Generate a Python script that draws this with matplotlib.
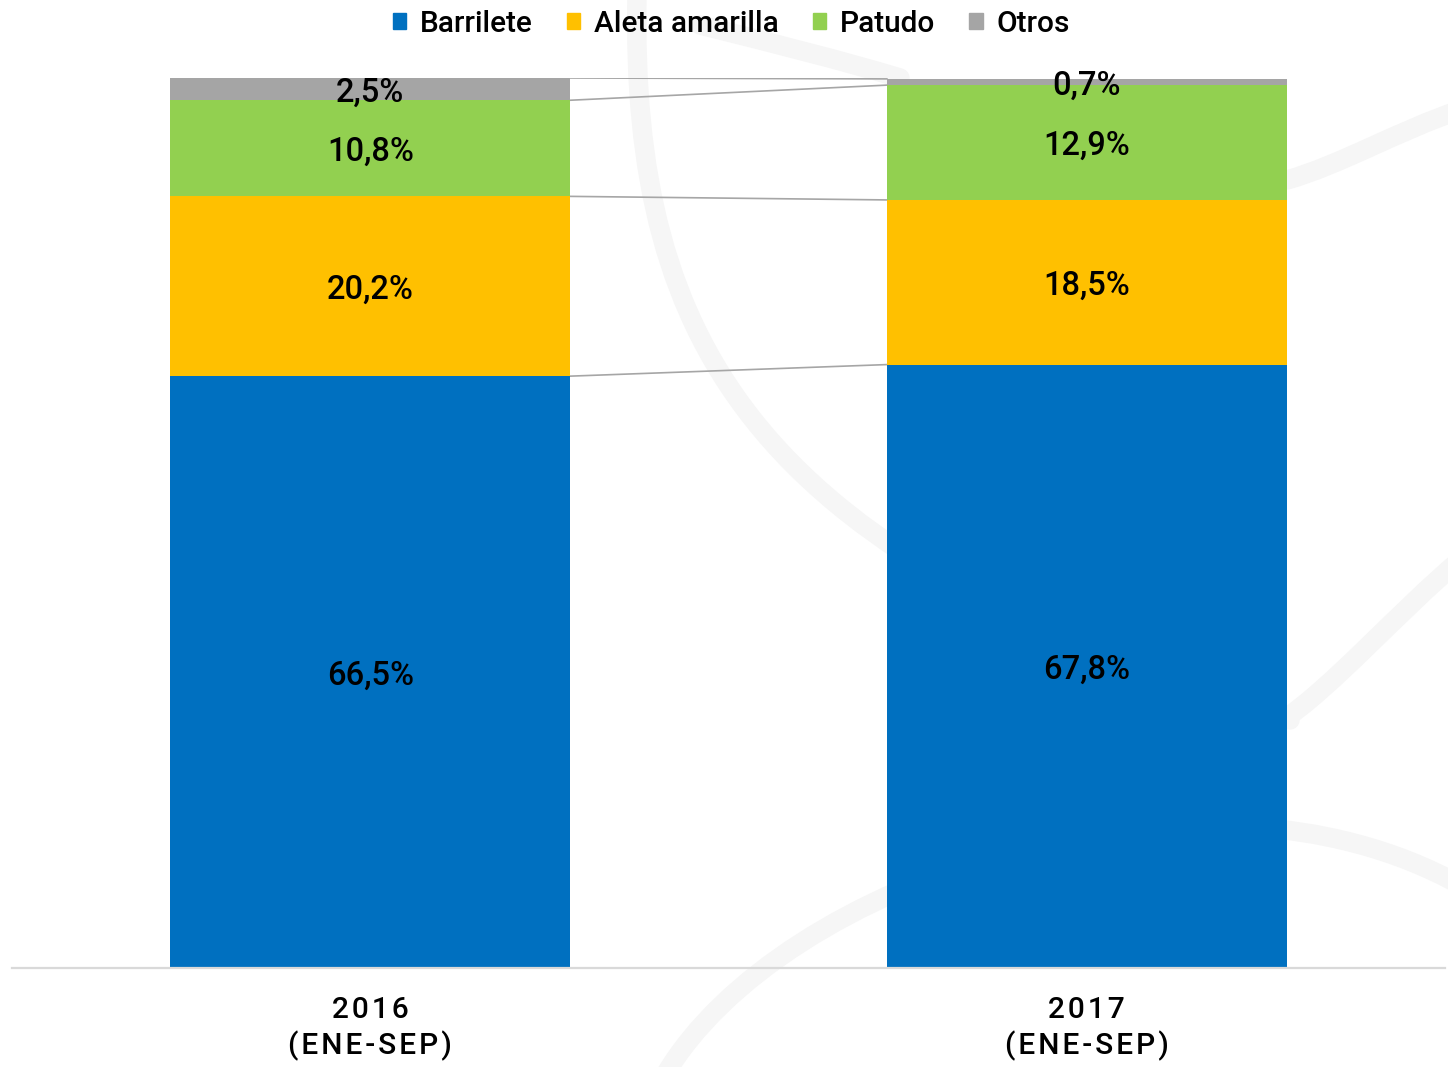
import numpy as np
import matplotlib
matplotlib.use("Agg")
import matplotlib.pyplot as plt
from matplotlib.path import Path
from matplotlib.patches import PathPatch, Patch

plt.rcParams['font.family'] = ['Roboto', 'DejaVu Sans']

# data
years = ['2016', '2017']
period = '(ENE-SEP)'
series_names = ['Barrilete', 'Aleta amarilla', 'Patudo', 'Otros']
barrilete = [66.5, 67.8]
aleta = [20.2, 18.5]
patudo = [10.8, 12.9]
otros = [2.5, 0.7]
colors = ['#0070C0', '#FFC000', '#92D050', '#A5A5A5']

fig = plt.figure(figsize=(14.48, 10.67), dpi=100)

# faint watermark strokes in the background (pixel coords)
bg = fig.add_axes([0, 0, 1, 1], zorder=-1)
bg.set_xlim(0, 1448)
bg.set_ylim(1067, 0)
bg.axis('off')
strokes = [
    [(637, -5), (630, 350), (760, 560), (1290, 720)],
    [(1280, 722), (1330, 690), (1400, 610), (1460, 560)],
    [(700, 25), (780, 45), (840, 60), (900, 78)],
    [(1287, 180), (1340, 165), (1400, 130), (1460, 110)],
    [(665, 1075), (780, 880), (1200, 740), (1460, 885)],
]
for pts in strokes:
    path = Path(pts, [Path.MOVETO, Path.CURVE4, Path.CURVE4, Path.CURVE4])
    bg.add_patch(PathPatch(path, facecolor='none', edgecolor='#f6f6f6',
                           lw=14, capstyle='round'))

ax = fig.add_axes([12 / 1448, 99 / 1067, 1433 / 1448, 890 / 1067])
ax.patch.set_alpha(0)

x = np.arange(len(years))
w = 0.558
data = [barrilete, aleta, patudo, otros]
bottom = np.zeros(len(years))
tops = []
for name, vals, c in zip(series_names, data, colors):
    vals = np.array(vals)
    ax.bar(x, vals, w, bottom=bottom, color=c, label=name, zorder=2)
    for xi, b, v in zip(x, bottom, vals):
        ax.text(xi, b + v / 2, f"{v:.1f}%".replace('.', ','), ha='center',
                va='center_baseline', fontsize=23.5, fontweight='medium',
                color='black', zorder=4)
    bottom = bottom + vals
    tops.append(bottom.copy())

# series lines between the bars
for t in tops:
    ax.plot([x[0] + w / 2, x[1] - w / 2], [t[0], t[1]], color='#a6a6a6',
            lw=1.2, zorder=1)

ax.set_xlim(-0.5, 1.5)
ax.set_ylim(0, 100)
ax.set_yticks([])
for s in ['top', 'left', 'right']:
    ax.spines[s].set_visible(False)
ax.spines['bottom'].set_color('#d9d9d9')
ax.spines['bottom'].set_linewidth(1.6)

spaced = lambda s: '\u200a'.join(s)
ax.set_xticks(x)
ax.set_xticklabels([spaced(y) + '\n' + spaced(period) for y in years],
                   fontsize=21.5, fontweight='medium', linespacing=1.27)
ax.tick_params(axis='x', length=0, pad=20)

handles = [Patch(color=c, label=n) for n, c in zip(series_names, colors)]
leg = fig.legend(handles=handles, loc='center',
                 bbox_to_anchor=(0.505, 1 - 24 / 1067), ncol=4, frameon=False,
                 fontsize=21.5, handlelength=0.45, handleheight=0.45,
                 handletextpad=0.45, columnspacing=1.15)
for t in leg.get_texts():
    t.set_fontweight('medium')

fig.savefig('out.png', dpi=100, facecolor='white')
